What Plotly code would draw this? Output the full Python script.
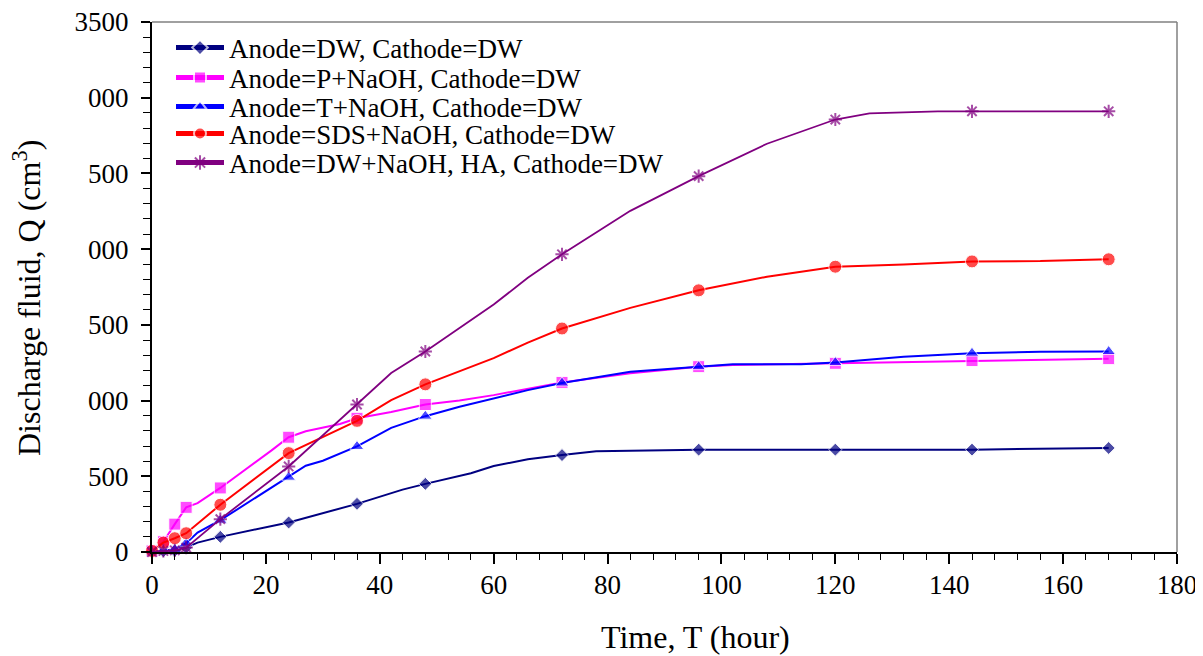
import plotly.graph_objects as go

# ---------------- data ----------------
marker_times = [0, 2, 4, 6, 12, 24, 36, 48, 72, 96, 120, 144, 168]

dw_t = [0, 2, 4, 6, 8, 12, 24, 36, 44, 48, 56, 60, 66, 72, 78, 96, 120, 144, 168]
dw_q = [0, 5, 8, 29, 62, 100, 195, 318, 412, 450, 520, 568, 612, 640, 665, 676, 676, 676, 687]

p_t = [0, 2, 4, 6, 8, 12, 21, 24, 27, 30, 33, 36, 42, 48, 54, 60, 66, 72, 84, 96, 102, 120, 144, 168]
p_q = [7, 68, 184, 295, 323, 423, 671, 758, 797, 819, 845, 883, 925, 974, 1000, 1036, 1080, 1120, 1180, 1224, 1235, 1246, 1264, 1277]

t_t = [0, 2, 4, 6, 8, 12, 24, 27, 30, 36, 42, 48, 54, 60, 66, 72, 84, 96, 102, 114, 120, 132, 144, 156, 168]
t_q = [0, 11, 18, 58, 128, 210, 494, 570, 603, 697, 820, 897, 959, 1014, 1069, 1116, 1190, 1224, 1240, 1240, 1251, 1290, 1313, 1322, 1324]

sds_t = [0, 2, 4, 6, 12, 24, 36, 42, 48, 54, 60, 66, 72, 84, 96, 108, 114, 120, 132, 144, 156, 168]
sds_q = [7, 62, 91, 124, 312, 653, 866, 1003, 1107, 1191, 1280, 1383, 1476, 1612, 1728, 1818, 1849, 1884, 1899, 1919, 1921, 1933]

ha_t = [0, 2, 4, 6, 12, 24, 36, 42, 48, 60, 66, 72, 84, 96, 108, 120, 126, 138, 144, 168]
ha_q = [0, 7, 11, 29, 217, 565, 974, 1182, 1324, 1634, 1811, 1966, 2253, 2482, 2696, 2856, 2896, 2910, 2910, 2910]

names = [
    "Anode=DW, Cathode=DW",
    "Anode=P+NaOH, Cathode=DW",
    "Anode=T+NaOH, Cathode=DW",
    "Anode=SDS+NaOH, Cathode=DW",
    "Anode=DW+NaOH, HA, Cathode=DW",
]

y_tickvals = [0, 500, 1000, 1500, 2000, 2500, 3000, 3500]
y_ticktext = ["0", "500", "000", "500", "000", "500", "000", "3500"]
x_tickvals = [0, 20, 40, 60, 80, 100, 120, 140, 160, 180]

# ---------------- styling ----------------
series = [
    (dw_t, dw_q, "#000080", "diamond", 10),
    (p_t, p_q, "#FF00FF", "square", 12),
    (t_t, t_q, "#0000FF", "triangle-up", 12),
    (sds_t, sds_q, "#FF0000", "circle", 13),
    (ha_t, ha_q, "#800080", "asterisk-open", 11),
]
FONT = "Liberation Serif, Times New Roman, serif"

# the page body has an 8px margin, so the figure is drawn from (8, 8)
OFF = 8
FIG_W, FIG_H = 1203 - OFF, 656 - OFF
# plot area in page pixels (as in the reference)
PLOT_L, PLOT_R, PLOT_T, PLOT_B = 152, 1177, 22, 552
PW, PH = PLOT_R - PLOT_L, PLOT_B - PLOT_T
legend_rows = [48, 78, 107, 134, 163]

fig = go.Figure()
for i, ((tt, qq, col, sym, ms), name) in enumerate(zip(series, names)):
    sizes = [ms if t in marker_times else 0 for t in tt]
    mk = dict(symbol=sym, size=sizes, color=col)
    if sym == "asterisk-open":
        mk["line"] = dict(color=col, width=2)
    fig.add_trace(go.Scatter(
        x=tt, y=qq, name=name, mode="lines+markers",
        line=dict(color=col, width=2 if i < 4 else 1.8),
        marker=mk, cliponaxis=False,
        legend="legend" if i == 0 else f"legend{i+1}",
    ))

legend_common = dict(
    font=dict(family=FONT, size=27, color="black"),
    bgcolor="rgba(0,0,0,0)", borderwidth=0, itemsizing="constant",
    itemwidth=48, xanchor="left", yanchor="middle",
    x=(171 - PLOT_L) / PW,
)
layout_legends = {}
for i, yc in enumerate(legend_rows):
    key = "legend" if i == 0 else f"legend{i+1}"
    layout_legends[key] = dict(legend_common, y=(PLOT_B - yc) / PH)

fig.update_layout(
    template="none",
    width=FIG_W, height=FIG_H,
    margin=dict(l=PLOT_L - OFF, r=FIG_W - (PLOT_R - OFF), t=PLOT_T - OFF,
                b=FIG_H - (PLOT_B - OFF), autoexpand=False),
    paper_bgcolor="white", plot_bgcolor="white",
    font=dict(family=FONT, color="black"),
    showlegend=True,
    **layout_legends,
    xaxis=dict(
        range=[0, 180], tickvals=x_tickvals, showgrid=False, zeroline=False,
        automargin=False, ticklabeloverflow="allow",
        showline=True, linecolor="black", linewidth=2,
        ticks="outside", ticklen=10, tickwidth=1.5, tickcolor="black",
        tickfont=dict(family=FONT, size=27, color="black"),
        ticklabelstandoff=-2,
        minor=dict(dtick=4, ticks="outside", ticklen=6, tickwidth=1.2, tickcolor="black"),
    ),
    yaxis=dict(
        range=[0, 3500], tickvals=y_tickvals, ticktext=y_ticktext,
        showgrid=False, zeroline=False, automargin=False, ticklabeloverflow="allow",
        showline=True, linecolor="black", linewidth=2,
        ticks="outside", ticklen=9, tickwidth=1.5, tickcolor="black",
        tickfont=dict(family=FONT, size=27, color="black"),
        ticklabelstandoff=7,
        minor=dict(dtick=100, ticks="outside", ticklen=7, tickwidth=1.2, tickcolor="black"),
    ),
    shapes=[
        dict(type="line", xref="paper", yref="paper", x0=0, x1=1, y0=1, y1=1,
             line=dict(color="#808080", width=1.5)),
        dict(type="line", xref="paper", yref="paper", x0=1, x1=1, y0=0, y1=1,
             line=dict(color="#808080", width=1.5)),
    ],
    annotations=[
        dict(text="Time, T (hour)", xref="paper", yref="paper",
             x=(695 - PLOT_L) / PW, y=(PLOT_B - 637) / PH,
             xanchor="center", yanchor="middle", showarrow=False,
             font=dict(family=FONT, size=32, color="black")),
        dict(text="Discharge fluid, Q (cm<sup>3</sup>)", xref="paper", yref="paper",
             x=(27 - PLOT_L) / PW, y=(PLOT_B - 298) / PH, textangle=-90,
             xanchor="center", yanchor="middle", showarrow=False,
             font=dict(family=FONT, size=32, color="black")),
    ],
)

fig.write_html("out.html")
